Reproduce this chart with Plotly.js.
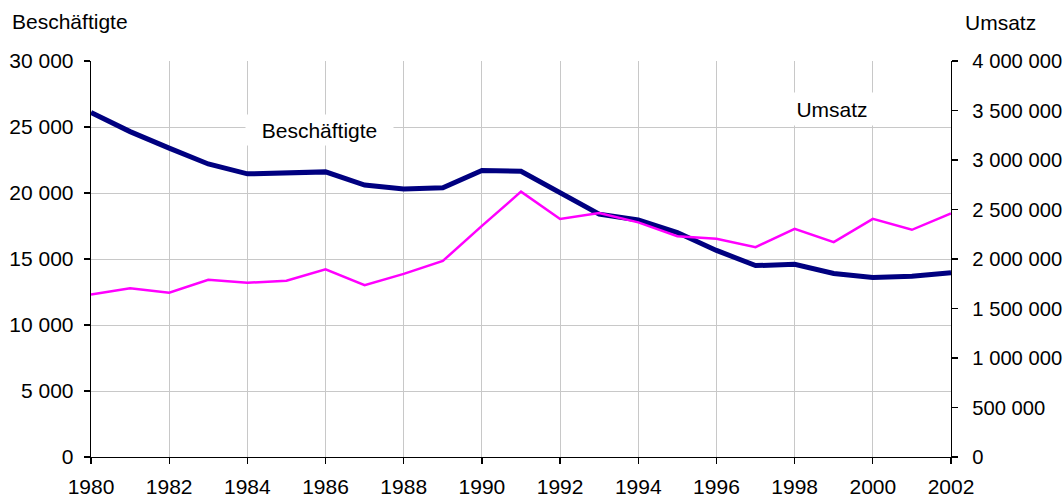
<!DOCTYPE html>
<html>
<head>
<meta charset="utf-8">
<script src="https://cdn.plot.ly/plotly-3.0.1.min.js"></script>
<style>html,body{margin:0;padding:0;background:#fff;}#chart{width:1063px;height:496px;}</style>
</head>
<body>
<div id="chart"></div>
<script>
const years = [1980,1981,1982,1983,1984,1985,1986,1987,1988,1989,1990,1991,1992,1993,1994,1995,1996,1997,1998,1999,2000,2001,2002];
const beschaeftigte = [26100,24650,23400,22200,21450,21500,21600,20600,20300,20400,21700,21650,20050,18400,17950,17000,15650,14500,14600,13900,13600,13700,13950];
const umsatz = [1640000,1705000,1660000,1790000,1760000,1780000,1895000,1735000,1850000,1980000,2335000,2680000,2405000,2465000,2370000,2230000,2205000,2120000,2305000,2170000,2405000,2295000,2460000];
const leftTitle = "Beschäftigte";
const rightTitle = "Umsatz";

const FONT = "Liberation Sans, Arial, sans-serif";
const FS = 21;

const traces = [
  {x: years, y: beschaeftigte, type: 'scatter', mode: 'lines', name: leftTitle,
   line: {color: '#000080', width: 5}, yaxis: 'y', hoverinfo: 'skip'},
  {x: years, y: umsatz, type: 'scatter', mode: 'lines', name: rightTitle,
   line: {color: '#FF00FF', width: 2.5}, yaxis: 'y2', hoverinfo: 'skip'}
];

const leftCommon = {range: [0, 30000], dtick: 5000, tick0: 0, fixedrange: true};
const rightCommon = {range: [0, 4000000], dtick: 500000, tick0: 0, fixedrange: true};

const layout = {
  width: 1063, height: 496,
  margin: {l: 91, r: 112, t: 61, b: 39, pad: 0},
  paper_bgcolor: '#ffffff', plot_bgcolor: '#ffffff',
  showlegend: false,
  separators: '. ',
  font: {family: FONT, size: FS, color: '#000'},
  xaxis: {
    range: [1980, 2002], dtick: 2, tick0: 1980, fixedrange: true,
    showgrid: true, gridcolor: '#c8c8c8', gridwidth: 1,
    showline: true, linecolor: '#000', linewidth: 1.3,
    ticks: 'outside', ticklen: 6, tickcolor: '#000', tickwidth: 1.3,
    ticklabelstandoff: 4,
    tickfont: {family: FONT, size: FS, color: '#000'},
    zeroline: false
  },
  yaxis: Object.assign({}, leftCommon, {
    side: 'left', tickformat: ',d',
    showgrid: true, gridcolor: '#c8c8c8', gridwidth: 1,
    showline: true, linecolor: '#000', linewidth: 1.3,
    ticks: 'outside', ticklen: 6, tickcolor: '#000', tickwidth: 1.3,
    ticklabelstandoff: 6,
    tickfont: {family: FONT, size: FS, color: '#000'}, zeroline: false
  }),
  yaxis2: Object.assign({}, rightCommon, {
    side: 'right', overlaying: 'y', anchor: 'x', tickformat: ',d',
    showgrid: false,
    showline: true, linecolor: '#000', linewidth: 1.3,
    ticks: 'outside', ticklen: 6, tickcolor: '#000', tickwidth: 1.3,
    ticklabelstandoff: 10,
    tickfont: {family: FONT, size: 20.2, color: '#000'}, zeroline: false
  }),
  yaxis3: Object.assign({}, leftCommon, {
    side: 'left', overlaying: 'y', anchor: 'x',
    showgrid: false, showline: false, showticklabels: false,
    ticks: 'inside', ticklen: 6, tickcolor: '#000', tickwidth: 1.3, zeroline: false
  }),
  yaxis4: Object.assign({}, rightCommon, {
    side: 'right', overlaying: 'y', anchor: 'x',
    showgrid: false, showline: false, showticklabels: false,
    ticks: 'inside', ticklen: 6, tickcolor: '#000', tickwidth: 1.3, zeroline: false
  }),
  annotations: [
    {text: leftTitle, xref: 'paper', yref: 'paper', x: -0.094, y: 1.0986,
     xanchor: 'left', yanchor: 'middle', showarrow: false,
     font: {family: FONT, size: FS, color: '#000'}},
    {text: rightTitle, xref: 'paper', yref: 'paper', x: 1.0137, y: 1.096,
     xanchor: 'left', yanchor: 'middle', showarrow: false,
     font: {family: FONT, size: FS, color: '#000'}},
    {text: leftTitle, xref: 'paper', yref: 'paper', x: 0.2657, y: 0.826,
     xanchor: 'center', yanchor: 'middle', showarrow: false,
     bgcolor: '#ffffff', width: 147, height: 30, borderpad: 0,
     font: {family: FONT, size: FS, color: '#000'}},
    {text: rightTitle, xref: 'paper', yref: 'paper', x: 0.8616, y: 0.8782,
     xanchor: 'center', yanchor: 'middle', showarrow: false,
     bgcolor: '#ffffff', width: 82, height: 32, borderpad: 0,
     font: {family: FONT, size: FS, color: '#000'}}
  ]
};

Plotly.newPlot('chart', traces, layout, {displayModeBar: false, staticPlot: true});
</script>
</body>
</html>
